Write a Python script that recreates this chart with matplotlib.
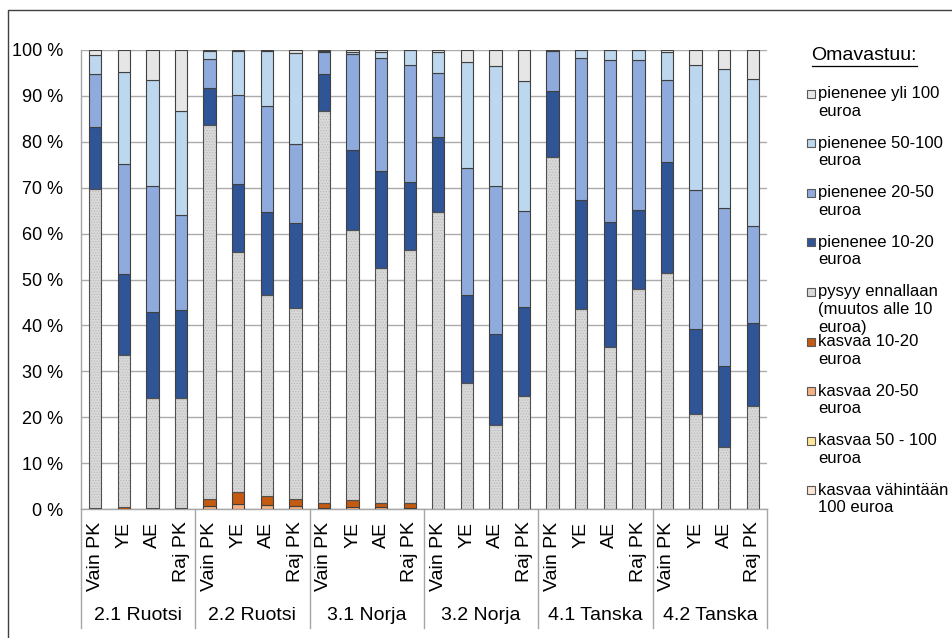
import numpy as np
import matplotlib
matplotlib.use('Agg')
import matplotlib.pyplot as plt
from matplotlib.patches import Rectangle
from matplotlib.lines import Line2D
import matplotlib.transforms as mtransforms

plt.rcParams['font.family'] = ['Liberation Sans', 'DejaVu Sans']
plt.rcParams['hatch.linewidth'] = 0.6

# Categories
groups = ['2.1 Ruotsi', '2.2 Ruotsi', '3.1 Norja', '3.2 Norja', '4.1 Tanska', '4.2 Tanska']
bar_labels = ['Vain PK', 'YE', 'AE', 'Raj PK'] * 6

# Series values (%), stacked from bottom to top
kasvaa_100 = [0] * 24
kasvaa_50_100 = [0] * 24
kasvaa_20_50 = [0, 0, 0, 0,
                0.7, 1.0, 0.9, 0.7,
                0.3, 0.5, 0.4, 0.3,
                0, 0, 0, 0,
                0, 0, 0, 0,
                0, 0, 0, 0]
kasvaa_10_20 = [0.2, 0.5, 0.2, 0.2,
                1.4, 2.8, 1.9, 1.4,
                0.9, 1.4, 0.8, 0.9,
                0, 0, 0, 0,
                0, 0, 0, 0,
                0, 0, 0, 0]
pysyy = [69.5, 33.1, 24.0, 24.0,
         81.6, 52.1, 43.9, 41.7,
         85.5, 58.8, 51.3, 55.3,
         64.7, 27.5, 18.4, 24.6,
         76.7, 43.5, 35.4, 47.9,
         51.5, 20.8, 13.4, 22.5]
pienenee_10_20 = [13.6, 17.6, 18.7, 19.1,
                  8.0, 15.0, 17.9, 18.5,
                  8.0, 17.6, 21.2, 14.7,
                  16.4, 19.2, 19.8, 19.5,
                  14.4, 23.8, 27.1, 17.3,
                  24.2, 18.5, 17.7, 18.1]
pienenee_20_50 = [11.4, 24.0, 27.5, 20.8,
                  6.4, 19.4, 23.2, 17.3,
                  4.9, 20.8, 24.6, 25.5,
                  13.8, 27.7, 32.2, 20.9,
                  8.7, 31.0, 35.3, 32.7,
                  17.8, 30.2, 34.4, 21.1]
pienenee_50_100 = [4.3, 20.0, 23.1, 22.6,
                   1.6, 9.4, 11.9, 19.8,
                   0.2, 0.5, 1.3, 3.3,
                   4.6, 23.0, 26.1, 28.3,
                   0.1, 1.7, 2.2, 2.1,
                   6.0, 27.2, 30.3, 31.9]
pienenee_yli_100 = [1.0, 4.8, 6.5, 13.3,
                    0.3, 0.3, 0.3, 0.6,
                    0.2, 0.4, 0.4, 0.0,
                    0.5, 2.6, 3.5, 6.7,
                    0.1, 0.0, 0.0, 0.0,
                    0.5, 3.3, 4.2, 6.4]

series = [
    ('kasvaa vähintään\n100 euroa', kasvaa_100, '#FBE5D6'),
    ('kasvaa 50 - 100\neuroa', kasvaa_50_100, '#FFE699'),
    ('kasvaa 20-50\neuroa', kasvaa_20_50, '#F4B183'),
    ('kasvaa 10-20\neuroa', kasvaa_10_20, '#C55A11'),
    ('pysyy ennallaan\n(muutos alle 10\neuroa)', pysyy, '#D9D9D9'),
    ('pienenee 10-20\neuroa', pienenee_10_20, '#2F5597'),
    ('pienenee 20-50\neuroa', pienenee_20_50, '#8FAADC'),
    ('pienenee 50-100\neuroa', pienenee_50_100, '#BDD7EE'),
    ('pienenee yli 100\neuroa', pienenee_yli_100, '#E7E6E6'),
]
hatched = 'pysyy ennallaan\n(muutos alle 10\neuroa)'

W, H = 952, 638
fig = plt.figure(figsize=(W / 100, H / 100), dpi=100)
ax = fig.add_axes([81 / W, 1 - 509 / H, (767 - 81) / W, (509 - 50) / H])

x = np.arange(len(bar_labels))
bar_width = 0.43
bottom = np.zeros(len(x))
for label, vals, color in series:
    vals = np.array(vals, dtype=float)
    if label == hatched:
        ax.bar(x, vals, bar_width, bottom=bottom, color=color, edgecolor='#BBBBBB',
               linewidth=0, hatch='......', zorder=3)
        ax.bar(x, vals, bar_width, bottom=bottom, facecolor='none', edgecolor='#505050',
               linewidth=0.8, zorder=4)
    else:
        ax.bar(x, vals, bar_width, bottom=bottom, color=color, edgecolor='#404040',
               linewidth=0.8, zorder=3)
    bottom += vals

ax.set_xlim(-0.5, len(x) - 0.5)
ax.set_ylim(0, 100)
ax.set_yticks(np.arange(0, 101, 10))
ax.set_yticklabels(['{} %'.format(v) for v in range(0, 101, 10)], fontsize=13)
ax.set_xticks(x)
ax.set_xticklabels(bar_labels, rotation=90, ha='center', va='top', fontsize=14)
ax.tick_params(axis='y', length=0, pad=13)
ax.tick_params(axis='x', length=0, pad=9)
ax.grid(True, axis='y', color='#ABABAB', linewidth=1, zorder=0)
ax.set_axisbelow(True)
for side in ['top', 'right']:
    ax.spines[side].set_visible(False)
for side in ['left', 'bottom']:
    ax.spines[side].set_color('#A6A6A6')
    ax.spines[side].set_linewidth(1)

# Group labels and separators
trans = mtransforms.blended_transform_factory(ax.transData, ax.transAxes)
sep_bottom = (509 - 628) / (509 - 50)
lab_y = (509 - 615) / (509 - 50)
for g, name in enumerate(groups):
    ax.text(g * 4 + 1.5, lab_y, name, transform=trans, ha='center', va='center', fontsize=14)
for k in range(len(groups) + 1):
    ax.plot([k * 4 - 0.5, k * 4 - 0.5], [0, sep_bottom], transform=trans, color='#A6A6A6',
            linewidth=1, clip_on=False)

# Outer frame
fig.add_artist(Line2D([8 / W, 8 / W, 1], [0, 1 - 10 / H, 1 - 10 / H], color='#404040', linewidth=1))

# Legend
fig.text(864 / W, 1 - 56 / H, 'Omavastuu:', ha='center', va='center', fontsize=14)
fig.add_artist(Line2D([812 / W, 917 / W], [1 - 66 / H, 1 - 66 / H], color='black', linewidth=0.9))
first_y = 93.5
step = 49.6
line_gap = 17.7
for i, (label, vals, color) in enumerate(reversed(series)):
    yc = first_y + i * step
    fig.add_artist(Rectangle((807 / W, 1 - (yc + 4) / H), 8 / W, 8 / H, facecolor=color,
                             edgecolor='#595959', linewidth=0.8))
    for j, line in enumerate(label.split('\n')):
        fig.text(818 / W, 1 - (yc + j * line_gap) / H, line, ha='left', va='center', fontsize=12)

fig.savefig('out.png', dpi=100)
